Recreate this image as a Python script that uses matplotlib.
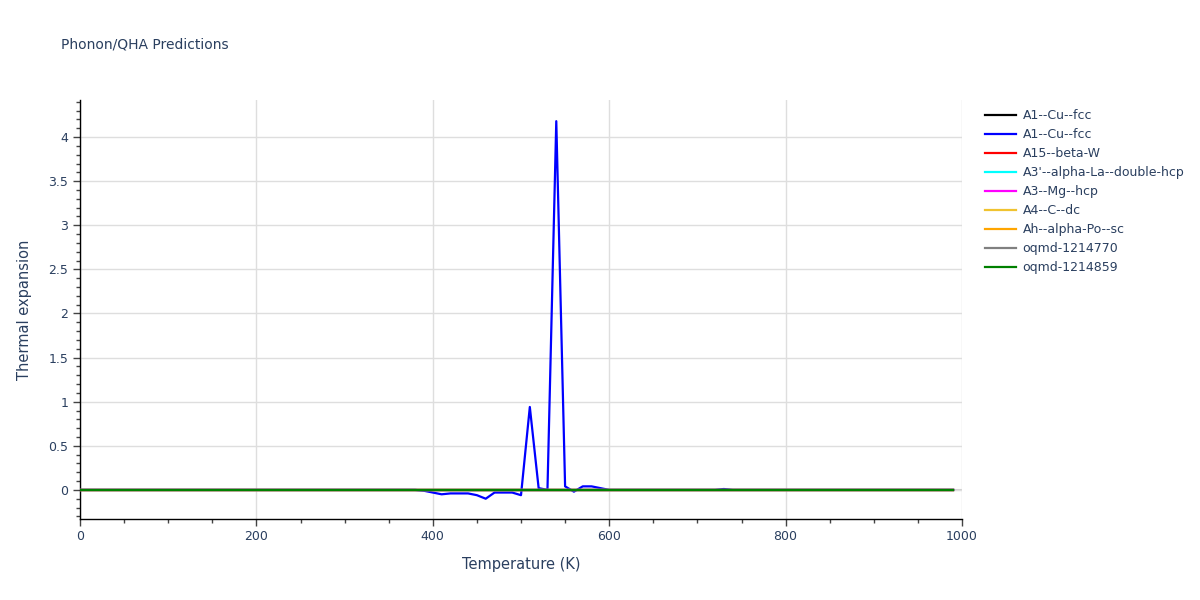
import numpy as np
import matplotlib
matplotlib.use("Agg")
import matplotlib.pyplot as plt
from matplotlib.ticker import MultipleLocator

temperature = np.arange(0, 1000, 10)

cu_fcc_black = [0.0] * 100
cu_fcc_blue = [
    0.0, 0.0, 0.0, 0.0, 0.0, 0.0, 0.0, 0.0, 0.0, 0.0,
    0.0, 0.0, 0.0, 0.0, 0.0, 0.0, 0.0, 0.0, 0.0, 0.0,
    0.0, 0.0, 0.0, 0.0, 0.0, 0.0, 0.0, 0.0, 0.0, 0.0,
    0.0, 0.0, 0.0, 0.0, 0.0, 0.0, 0.0, 0.0, 0.0, -0.01,
    -0.03, -0.05, -0.04, -0.04, -0.04, -0.06, -0.10, -0.03, -0.03, -0.03,
    -0.06, 0.94, 0.02, 0.0, 4.18, 0.04, -0.02, 0.04, 0.04, 0.02,
    0.0, 0.0, 0.0, 0.0, 0.0, 0.0, 0.0, 0.0, 0.0, 0.0,
    0.0, 0.0, 0.0, 0.01, 0.0, 0.0, 0.0, 0.0, 0.0, 0.0,
    0.0, 0.0, 0.0, 0.0, 0.0, 0.0, 0.0, 0.0, 0.0, 0.0,
    0.0, 0.0, 0.0, 0.0, 0.0, 0.0, 0.0, 0.0, 0.0, 0.0,
]
beta_w = [0.0] * 100
alpha_la = [0.0] * 100
mg_hcp = [0.0] * 100
c_dc = [0.0] * 100
alpha_po = [0.0] * 100
oqmd_1214770 = [0.0] * 100
oqmd_1214859 = [0.0] * 100

labels = ["A1--Cu--fcc", "A1--Cu--fcc", "A15--beta-W", "A3'--alpha-La--double-hcp",
          "A3--Mg--hcp", "A4--C--dc", "Ah--alpha-Po--sc", "oqmd-1214770", "oqmd-1214859"]
series = [cu_fcc_black, cu_fcc_blue, beta_w, alpha_la, mg_hcp, c_dc, alpha_po,
          oqmd_1214770, oqmd_1214859]
colors = ["black", "blue", "red", "cyan", "magenta", "#f0c330", "orange", "gray", "green"]

text_color = "#2a3f5f"
fig = plt.figure(figsize=(12, 6), dpi=100)
ax = fig.add_axes([80 / 1200, 1 - 519 / 600, 882 / 1200, 419 / 600])

ax.axhline(0, color="#d0d0d0", lw=1.5, zorder=1)
for vals, lab, col in zip(series, labels, colors):
    ax.plot(temperature, vals, color=col, lw=1.6, label=lab, zorder=3)

ax.set_xlim(0, 1000)
ax.set_ylim(-0.33, 4.42)
ax.xaxis.set_major_locator(MultipleLocator(200))
ax.xaxis.set_minor_locator(MultipleLocator(50))
ax.yaxis.set_minor_locator(MultipleLocator(0.1))
ax.set_yticks([0, 0.5, 1, 1.5, 2, 2.5, 3, 3.5, 4])
ax.set_yticklabels(["0", "0.5", "1", "1.5", "2", "2.5", "3", "3.5", "4"])
ax.grid(True, which="major", color="#dedede", lw=1, zorder=0)
for s in ["top", "right"]:
    ax.spines[s].set_visible(False)
for s in ["left", "bottom"]:
    ax.spines[s].set_color("black")
    ax.spines[s].set_linewidth(1)
ax.tick_params(which="major", direction="out", length=5, width=1, color="#444444",
               labelcolor=text_color, labelsize=9)
ax.tick_params(which="minor", direction="out", length=3, width=1, color="#444444")
ax.tick_params(axis="x", pad=3)
ax.set_xlabel("Temperature (K)", color=text_color, fontsize=10.5, labelpad=10)
ax.set_ylabel("Thermal expansion", color=text_color, fontsize=10.5, labelpad=12)

fig.text(61 / 1200, 1 - 45 / 600, "Phonon/QHA Predictions", color=text_color,
         fontsize=10, va="center", ha="left")

leg = fig.legend(loc="upper left", bbox_to_anchor=(980 / 1200, 1 - 104 / 600),
                 frameon=False, fontsize=9, handlelength=2.5, labelspacing=0.48,
                 handletextpad=0.5, borderaxespad=0)
for t in leg.get_texts():
    t.set_color(text_color)

fig.savefig("out.png", dpi=100)
